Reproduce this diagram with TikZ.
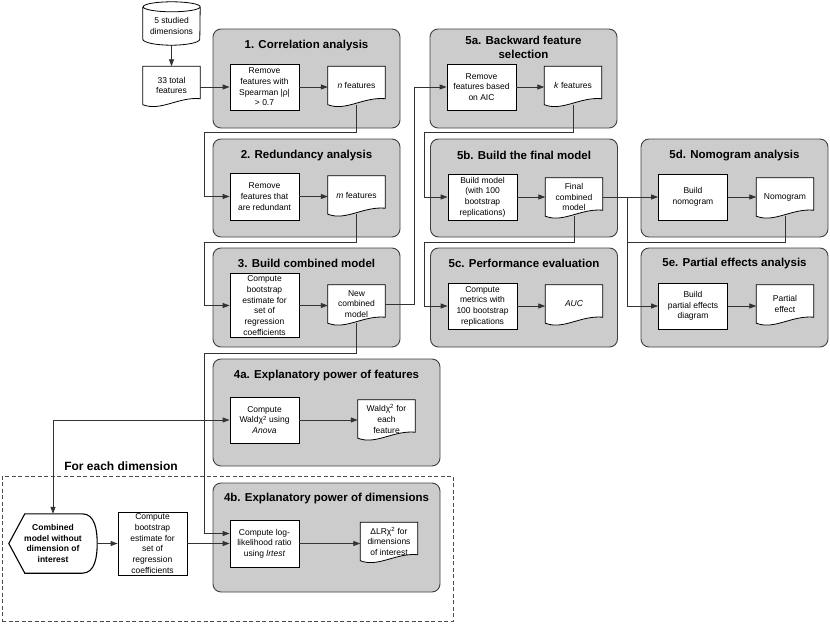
\documentclass[tikz,border=0pt]{standalone}
\usepackage{fontspec}
\setmainfont{Liberation Sans}
\usetikzlibrary{arrows.meta,positioning}

\tikzset{
    panel/.style={draw=black!75, fill=black!20, rounded corners=8pt, line width=0.9pt},
    paneltitle/.style={font=\fontsize{11.5}{13.5}\selectfont\bfseries, align=center, inner sep=1pt},
    procbox/.style={draw=black, fill=white, line width=0.8pt, minimum width=69pt, minimum height=46pt, inner sep=1pt, align=center, font=\fontsize{8.5}{10.7}\selectfont},
    docbox/.style={minimum width=57pt, minimum height=38pt, inner sep=1pt, align=center, font=\fontsize{8.5}{10.7}\selectfont},
    docline/.style={draw=black, fill=white, line width=0.8pt},
    shapetext/.style={inner sep=1pt, align=center, font=\fontsize{8.5}{10.7}\selectfont},
    link/.style={draw=black!80, line width=0.8pt, -{Triangle[length=7pt,width=5pt]}},
    joinline/.style={draw=black!80, line width=0.8pt},
    loopbox/.style={draw=black!70, line width=0.8pt, dash pattern=on 4pt off 2.5pt},
}

% document symbol: empty node, wavy outline, then the text on top
\newcommand{\docshape}[3]{%
    \node[docbox] (#1) at (#2) {};
    \draw[docline] (#1.south west) -- (#1.north west) -- (#1.north east) -- ([yshift=6pt]#1.south east)
        .. controls ([xshift=-22pt,yshift=8pt]#1.south east) and ([xshift=18pt,yshift=-7pt]#1.south west) .. (#1.south west) -- cycle;
    \node[docbox] (#1-txt) at (#1) {#3};
}

\begin{document}
\begin{tikzpicture}[x=1pt,y=1pt]
    \useasboundingbox (0,0) rectangle (830,-624);

    % Grey stage panels
    \node[panel, minimum width=187pt, minimum height=99pt] (p1) at (306.5,-78.5) {};
    \node[panel, minimum width=187pt, minimum height=98pt] (p2) at (306.5,-188) {};
    \node[panel, minimum width=187pt, minimum height=99pt] (p3) at (306.5,-297.5) {};
    \node[panel, minimum width=227pt, minimum height=107pt] (p4a) at (326.5,-412.5) {};
    \node[panel, minimum width=227pt, minimum height=109pt] (p4b) at (326.5,-537.5) {};
    \node[panel, minimum width=187pt, minimum height=99pt] (p5a) at (523.5,-78.5) {};
    \node[panel, minimum width=187pt, minimum height=98pt] (p5b) at (524,-188) {};
    \node[panel, minimum width=187pt, minimum height=99pt] (p5c) at (524,-297.5) {};
    \node[panel, minimum width=187pt, minimum height=98pt] (p5d) at (734.5,-188) {};
    \node[panel, minimum width=187pt, minimum height=99pt] (p5e) at (734.5,-297.5) {};

    % Panel titles
    \node[paneltitle] (t1) at ([yshift=-17pt]p1.north) {1. Correlation analysis};
    \node[paneltitle] (t2) at ([yshift=-17pt]p2.north) {2. Redundancy analysis};
    \node[paneltitle] (t3) at ([yshift=-16pt]p3.north) {3. Build combined model};
    \node[paneltitle] (t4a) at ([yshift=-17pt]p4a.north) {4a. Explanatory power of features};
    \node[paneltitle] (t4b) at ([yshift=-16pt]p4b.north) {4b. Explanatory power of dimensions};
    \node[paneltitle] (t5a) at ([yshift=-19pt]p5a.north) {5a. Backward feature\\selection};
    \node[paneltitle] (t5b) at ([yshift=-17pt]p5b.north) {5b. Build the final model};
    \node[paneltitle] (t5c) at ([yshift=-16pt]p5c.north) {5c. Performance evaluation};
    \node[paneltitle] (t5d) at ([yshift=-17pt]p5d.north) {5d. Nomogram analysis};
    \node[paneltitle] (t5e) at ([yshift=-16pt]p5e.north) {5e. Partial effects analysis};

    % Loop over the dimensions
    \node[loopbox, minimum width=451pt, minimum height=145pt] (loop) at (227.5,-548.5) {};
    \node[font=\fontsize{12}{14}\selectfont\bfseries, inner sep=1pt] (looptitle) at (121,-466) {For each dimension};

    % Input data
    \node[shapetext, minimum width=57pt, minimum height=38pt] (dims) at (171.5,-26) {5 studied\\dimensions};
    \draw[docline, fill=none] (dims.north west) -- ([yshift=6pt]dims.south west)
        arc[start angle=180, end angle=360, x radius=28.5pt, y radius=6pt]
        -- (dims.north east) arc[start angle=0, end angle=360, x radius=28.5pt, y radius=5pt];
    \docshape{allfeat}{171.5,-85.5}{33 total\\features}

    % Stage steps
    \node[procbox] (corr) at (264.5,-87) {Remove\\features with\\Spearman |ρ|\\> 0.7};
    \node[procbox, minimum height=47pt] (redun) at (264.5,-196.5) {Remove\\features that\\are redundant};
    \node[procbox, minimum height=64pt] (boot) at (264.5,-305.5) {Compute\\bootstrap\\estimate for\\set of\\regression\\coefficients};
    \node[procbox] (wald) at (264.5,-420) {Compute\\Waldχ\textsuperscript{2} using\\\textit{Anova}};
    \node[procbox, minimum height=47pt] (lrt) at (264.5,-543.5) {Compute log-\\likelihood ratio\\using \textit{lrtest}};
    \node[procbox] (aic) at (481.5,-87) {Remove\\features based\\on AIC};
    \node[procbox] (fit) at (482.5,-197) {Build model\\(with 100\\bootstrap\\replications)};
    \node[procbox] (perf) at (482.5,-306) {Compute\\metrics with\\100 bootstrap\\replications};
    \node[procbox] (nomo) at (693,-197) {Build\\nomogram};
    \node[procbox] (peff) at (693,-306) {Build\\partial effects\\diagram};
    \node[procbox, minimum height=63pt] (bootl) at (152.5,-543.5) {Compute\\bootstrap\\estimate for\\set of\\regression\\coefficients};

    % Stage outputs
    \docshape{nfeat}{356.5,-85.5}{\textit{n} features}
    \docshape{mfeat}{356.5,-195}{\textit{m} features}
    \docshape{newmod}{356.5,-304}{New\\combined\\model}
    \docshape{waldout}{386.5,-419}{Waldχ\textsuperscript{2} for\\each\\feature}
    \docshape{lrout}{389,-541.5}{ΔLRχ\textsuperscript{2} for\\dimensions\\of interest}
    \docshape{kfeat}{573,-85.5}{\textit{k} features}
    \docshape{finalmod}{574,-197}{Final\\combined\\model}
    \docshape{auc}{574,-304}{\textit{AUC}}
    \docshape{nomout}{785,-197}{Nomogram}
    \docshape{peffout}{785,-304}{Partial\\effect}

    % Model without one dimension
    \node[shapetext, font=\fontsize{8.5}{10.7}\selectfont\bfseries, minimum width=88pt, minimum height=59pt] (dropdim) at (53,-543.5) {Combined\\model without\\dimension of\\interest};
    \draw[black, line width=1.1pt] (dropdim.west) -- ([xshift=16pt]dropdim.north west) -- ([xshift=-15pt]dropdim.north east)
        to[out=0,in=90] (dropdim.east) to[out=-90,in=0] ([xshift=-15pt]dropdim.south east)
        -- ([xshift=16pt]dropdim.south west) -- cycle;

    % Arrows inside the stages
    \foreach \src/\dst in {corr/nfeat, redun/mfeat, boot/newmod, wald/waldout, lrt/lrout,
                           aic/kfeat, fit/finalmod, perf/auc, nomo/nomout, peff/peffout}
        \draw[link] (\src.east) -- (\src.east -| \dst.west);

    % Arrows between the stages
    \draw[link] (dims.south) -- (allfeat.north);
    \draw[link] (corr.west -| allfeat.east) -- (corr.west);
    \draw[link] (nfeat.south) -- ++(0,-28) -| ([xshift=-25pt]redun.west) -- (redun.west);
    \draw[link] (mfeat.south) -- ++(0,-28) -| ([xshift=-25pt]boot.west) -- (boot.west);
    \draw[link] (newmod.south) -- ++(0,-30) -| ([xshift=-25pt,yshift=10pt]lrt.west) -- ([yshift=10pt]lrt.west);
    \coordinate (split4) at ([xshift=-25pt]wald.west);
    \draw[link] (split4) -- (wald.west);
    \draw[link] (split4) -| (dropdim.north);
    \draw[link] (dropdim.east) -- (bootl.west);
    \draw[link] (bootl.east) -- (lrt.west);
    \draw[link] (newmod.east) -| ([xshift=-32pt]aic.west) -- (aic.west);
    \draw[link] (kfeat.south) -- ++(0,-28) -| ([xshift=-23pt]fit.west) -- (fit.west);
    \draw[link] (finalmod.south) -- ++(0,-26) -| ([xshift=-23pt]perf.west) -- (perf.west);
    \coordinate (split5) at ([xshift=-31pt]nomo.west);
    \draw[link] (finalmod.east) -- (nomo.west);
    \draw[link] (split5) |- (peff.west);
    \draw[joinline] (nomout.south) |- ([yshift=-45pt]split5);

\end{tikzpicture}
\end{document}
